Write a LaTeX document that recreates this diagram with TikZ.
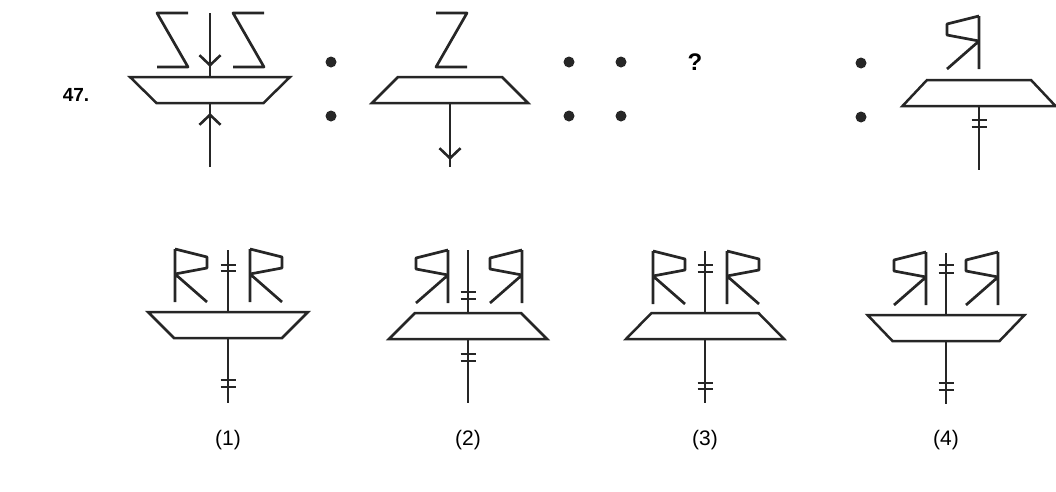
\documentclass[tikz,border=0pt]{standalone}
\usepackage{fontspec}
\setmainfont{Liberation Sans}
\usetikzlibrary{
	arrows.meta,
	decorations.markings
}
\definecolor{ink}{HTML}{262626}

\begin{document}
\begin{tikzpicture}[
		x=1pt, y=-1pt,
		stroke/.style={draw=ink, line width=2.7pt, line join=round},
		outline/.style={draw=ink, line width=2.5pt, line join=miter},
		stem/.style={draw=ink, line width=2.6pt},
		barb/.style={postaction={decorate}, decoration={markings, mark=at position #1 with {\arrow{Straight Barb[length=10pt, width=21pt]}}}},
		ticks/.style 2 args={postaction={decorate}, decoration={markings,
				mark=at position #1 with {\draw[ink, line width=1.6pt] (0pt,-7.5pt) -- (0pt,7.5pt);},
				mark=at position #2 with {\draw[ink, line width=1.6pt] (0pt,-7.5pt) -- (0pt,7.5pt);}}},
		dot/.style={circle, fill=ink, inner sep=0pt, minimum size=11pt},
		lbl/.style={font=\fontsize{21}{24}\selectfont, text=black},
		pics/tray/.style 2 args={code={
				\draw[outline] (-#1/2,0) -- (#1/2,0) -- (#2/2,26) -- (-#2/2,26) -- cycle;
				\coordinate (-n) at (0,0);
				\coordinate (-s) at (0,26);}},
		rglyph/.pic={\draw[stroke] (0,0) -- (0,53) (0,0) -- (32,8) -- (32,19) -- (0,25) -- (32,53);},
		zglyph/.pic={\draw[stroke] (0,0) -- (31,0) -- (0,54) -- (31,54);}
		]
		\useasboundingbox (0,0) rectangle (1056,491);
		
		% =========================
		% Question row
		% =========================
		\node[font=\bfseries\fontsize{19}{22}\selectfont] (qnum) at (76,95) {47.};
		
		% figure A
		\pic (fa) at (210,77) {tray={160}{107}};
		\pic[xscale=-1] at (188,13) {zglyph};
		\pic[xscale=-1] at (264,13) {zglyph};
		\coordinate (fatop) at (210,13);
		\coordinate (fabot) at (210,167);
		\draw[stem, barb=-10pt] (fatop) -- (fa-n);
		\draw[stem, barb=-10pt] (fabot) -- (fa-s);
		
		\node[dot] (d1) at (331,62) {};
		\node[dot] (d2) at (331,116) {};
		
		% figure B
		\pic (fb) at (450,77) {tray={104}{156}};
		\pic at (436,13) {zglyph};
		\coordinate (fbbot) at (450,167);
		\draw[stem, barb=-7pt] (fb-s) -- (fbbot);
		
		\node[dot] (d3) at (569,62) {};
		\node[dot] (d4) at (621,62) {};
		\node[dot] (d5) at (569,116) {};
		\node[dot] (d6) at (621,116) {};
		
		\node[font=\bfseries\fontsize{24}{28}\selectfont] (qmark) at (695,62) {?};
		
		\node[dot] (d7) at (861,63) {};
		\node[dot] (d8) at (861,117) {};
		
		% figure C
		\pic (fc) at (979,80) {tray={104}{153}};
		\pic[xscale=-1] at (979,16) {rglyph};
		\coordinate (fcbot) at (979,170);
		\draw[stem, ticks={14pt}{21pt}] (fc-s) -- (fcbot);
		
		% =========================
		% Answer row
		% =========================
		% option 1
		\pic (o1) at (228,312) {tray={160}{108}};
		\pic at (175,249) {rglyph};
		\pic at (250,249) {rglyph};
		\coordinate (o1top) at (228,250);
		\coordinate (o1bot) at (228,403);
		\draw[stem, ticks={15pt}{21pt}] (o1top) -- (o1-n);
		\draw[stem, ticks={42pt}{49pt}] (o1-s) -- (o1bot);
		
		% option 2
		\pic (o2) at (468,313) {tray={106}{158}};
		\pic[xscale=-1] at (448,250) {rglyph};
		\pic[xscale=-1] at (522,250) {rglyph};
		\coordinate (o2top) at (468,250);
		\coordinate (o2bot) at (468,403);
		\draw[stem, ticks={42pt}{49pt}] (o2top) -- (o2-n);
		\draw[stem, ticks={15pt}{22pt}] (o2-s) -- (o2bot);
		
		% option 3
		\pic (o3) at (705,313) {tray={107}{158}};
		\pic at (653,251) {rglyph};
		\pic at (727,251) {rglyph};
		\coordinate (o3top) at (705,251);
		\coordinate (o3bot) at (705,403);
		\draw[stem, ticks={14pt}{21pt}] (o3top) -- (o3-n);
		\draw[stem, ticks={44pt}{50pt}] (o3-s) -- (o3bot);
		
		% option 4
		\pic (o4) at (946,315) {tray={157}{107}};
		\pic[xscale=-1] at (926,252) {rglyph};
		\pic[xscale=-1] at (998,252) {rglyph};
		\coordinate (o4top) at (946,253);
		\coordinate (o4bot) at (946,404);
		\draw[stem, ticks={12pt}{20pt}] (o4top) -- (o4-n);
		\draw[stem, ticks={42pt}{49pt}] (o4-s) -- (o4bot);
		
		% =========================
		% Option labels
		% =========================
		\node[lbl] (l1) at (228,440) {(1)};
		\node[lbl] (l2) at (468,440) {(2)};
		\node[lbl] (l3) at (705,440) {(3)};
		\node[lbl] (l4) at (946,440) {(4)};
		
	\end{tikzpicture}
\end{document}
